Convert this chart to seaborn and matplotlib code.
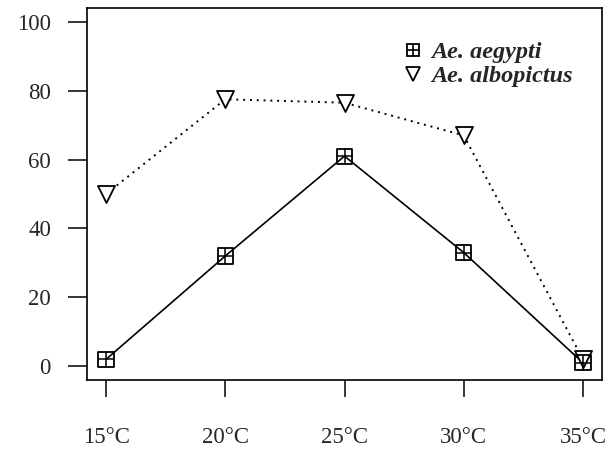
import matplotlib
matplotlib.use("Agg")
import matplotlib.pyplot as plt
import seaborn as sns
import pandas as pd
from matplotlib.lines import Line2D

temps = [15, 20, 25, 30, 35]
temp_labels = ["15°C", "20°C", "25°C", "30°C", "35°C"]
aegypti = [2, 32, 61, 33, 1]
albopictus = [50, 77.5, 76.5, 67, 2]

sns.set_theme(style="white")
plt.rcParams['font.family'] = ['Liberation Serif', 'DejaVu Serif']

df_ae = pd.DataFrame({"t": temps, "v": aegypti})
df_al = pd.DataFrame({"t": temps, "v": albopictus})

fig = plt.figure(figsize=(6.16, 4.5), dpi=100)
ax = fig.add_axes([87/616, 1-380/450, (602-87)/616, (380-8)/450])

sns.lineplot(data=df_al, x="t", y="v", ax=ax, color="black", lw=1.4,
             linestyle=(0, (1, 2.5)))
sns.lineplot(data=df_ae, x="t", y="v", ax=ax, color="black", lw=1.2)

sns.scatterplot(data=df_al, x="t", y="v", ax=ax, marker="v", s=150,
                facecolor="white", edgecolor="black", linewidth=1.3, zorder=5)
sns.scatterplot(data=df_ae, x="t", y="v", ax=ax, marker="s", s=120,
                facecolor="none", edgecolor="black", linewidth=1.3, zorder=6)
sns.scatterplot(data=df_ae, x="t", y="v", ax=ax, marker="+", s=120,
                color="black", linewidth=1.1, zorder=6)

ax.set_xlim(15 - 0.8, 35 + 0.8)
ax.set_ylim(-4, 104)
ax.set_xticks(temps)
ax.set_xticklabels(temp_labels)
ax.set_yticks([0, 20, 40, 60, 80, 100])
ax.set_xlabel("")
ax.set_ylabel("")
for s in ax.spines.values():
    s.set_color("black")
    s.set_linewidth(1.2)
ax.tick_params(axis="x", length=12, width=1.1, pad=22, labelsize=16.5, color="black",
               bottom=True, direction="out")
ax.tick_params(axis="y", length=14, width=1.1, pad=12, labelsize=16.5, color="black",
               left=True, direction="out")

h1 = (Line2D([], [], marker="s", ls="none", mfc="none", mec="black", ms=9, mew=1.3),
      Line2D([], [], marker="+", ls="none", color="black", ms=9, mew=1.2))
h2 = Line2D([], [], marker="v", ls="none", mfc="none", mec="black", ms=10.5, mew=1.3)
ax.legend([h1, h2], ["Ae. aegypti", "Ae. albopictus"], loc="upper right",
          bbox_to_anchor=(0.985, 0.97), frameon=False, handlelength=0.9,
          handletextpad=0.3, labelspacing=0.08,
          prop={"family": "Liberation Serif", "style": "italic", "weight": "bold", "size": 17.5})

fig.savefig("out.png", dpi=100)
